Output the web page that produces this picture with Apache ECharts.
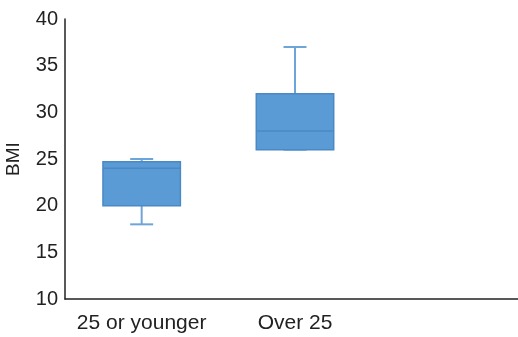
<!DOCTYPE html>
<html><head><meta charset="utf-8">
<script src="https://cdn.jsdelivr.net/npm/echarts@6/dist/echarts.min.js"></script>
<style>html,body{margin:0;padding:0;background:#fff}#c{width:518px;height:337px}</style>
</head><body><div id="c"></div>
<script>
const categories = ['25 or younger', 'Over 25', ''];
const mins    = [18, 26];
const q1s     = [20, 26];
const medians = [24, 28];
const q3s     = [24.7, 32];
const maxs    = [25, 37];
const yTicks  = [10, 15, 20, 25, 30, 35, 40];

const data = mins.map((m, i) => [i, m, q1s[i], medians[i], q3s[i], maxs[i]]);

const chart = echarts.init(document.getElementById('c'));
chart.setOption({
  animation: false,
  grid: { left: 65, right: -7, top: 19, bottom: 38, containLabel: false, outerBoundsMode: 'none' },
  xAxis: {
    type: 'category', data: categories,
    axisLine: { lineStyle: { color: '#222', width: 1.5 } },
    axisTick: { show: false },
    axisLabel: { color: '#222', fontSize: 21, fontFamily: 'Liberation Sans', margin: 14, interval: 0, hideOverlap: false },
    splitLine: { show: false }
  },
  yAxis: {
    type: 'value', min: yTicks[0], max: yTicks[yTicks.length - 1], interval: 5,
    name: 'BMI', nameLocation: 'middle', nameGap: 42, nameRotate: 90,
    nameTextStyle: { color: '#222', fontSize: 19, fontFamily: 'Liberation Sans' },
    axisLine: { show: true, lineStyle: { color: '#222', width: 1.5 } },
    axisTick: { show: false },
    axisLabel: { color: '#222', fontSize: 20, fontFamily: 'Liberation Sans', margin: 7 },
    splitLine: { show: false }
  },
  series: [{
    type: 'custom',
    data: data,
    encode: { x: 0, y: [1, 2, 3, 4, 5] },
    renderItem: function (params, api) {
      const x = api.value(0);
      const band = api.size([1, 0])[0];
      const bw = band * 0.505;
      const cw = band * 0.15;
      const pMin = api.coord([x, api.value(1)]);
      const pQ1 = api.coord([x, api.value(2)]);
      const pMed = api.coord([x, api.value(3)]);
      const pQ3 = api.coord([x, api.value(4)]);
      const pMax = api.coord([x, api.value(5)]);
      const cx = pMed[0];
      const wStyle = { stroke: '#6ea5d9', lineWidth: 2 };
      const bStyle = { stroke: '#4a88c6', lineWidth: 1.5 };
      return {
        type: 'group',
        children: [
          { type: 'line', shape: { x1: cx, y1: pQ3[1], x2: cx, y2: pMax[1] }, style: wStyle },
          { type: 'line', shape: { x1: cx - cw / 2, y1: pMax[1], x2: cx + cw / 2, y2: pMax[1] }, style: wStyle },
          { type: 'line', shape: { x1: cx, y1: pQ1[1], x2: cx, y2: pMin[1] }, style: wStyle },
          { type: 'line', shape: { x1: cx - cw / 2, y1: pMin[1], x2: cx + cw / 2, y2: pMin[1] }, style: wStyle },
          { type: 'rect', shape: { x: cx - bw / 2, y: pQ3[1], width: bw, height: pQ1[1] - pQ3[1] },
            style: { fill: '#5b9bd5', stroke: '#4a88c6', lineWidth: 1.5 } },
          { type: 'line', shape: { x1: cx - bw / 2, y1: pMed[1], x2: cx + bw / 2, y2: pMed[1] }, style: bStyle }
        ]
      };
    }
  }]
});
</script></body></html>
